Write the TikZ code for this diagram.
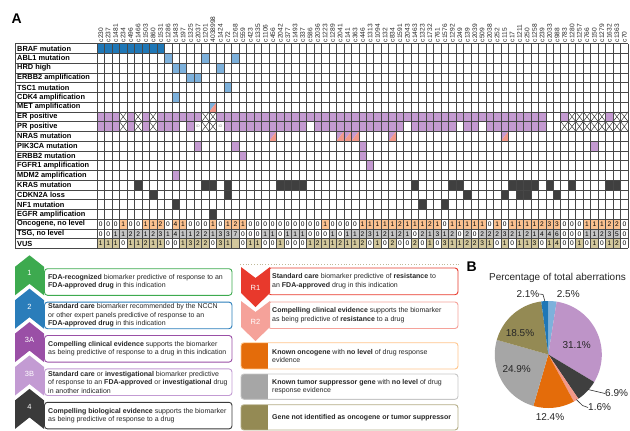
\documentclass[tikz,border=0pt]{standalone}
\usepackage{fontspec}
\setmainfont{Liberation Sans}
\definecolor{dblue}{HTML}{1F77B6}
\definecolor{lblue}{HTML}{7DB1DC}
\definecolor{purp}{HTML}{C49AD1}
\definecolor{salm}{HTML}{F3988A}
\definecolor{dgray}{HTML}{3F3F3F}
\definecolor{orcell}{HTML}{FBC18F}
\definecolor{gycell}{HTML}{C4C4C4}
\definecolor{khcell}{HTML}{D2C79C}
\definecolor{lgreen}{HTML}{3DAA4F}
\definecolor{lblueb}{HTML}{2A7DBA}
\definecolor{lpurA}{HTML}{9A4FA6}
\definecolor{lpurB}{HTML}{C39BD3}
\definecolor{lgrayd}{HTML}{3A3A3A}
\definecolor{rone}{HTML}{E8392C}
\definecolor{rtwo}{HTML}{F5A29A}
\definecolor{lorange}{HTML}{E46C0A}
\definecolor{lgray}{HTML}{A6A6A6}
\definecolor{lkhaki}{HTML}{948A54}
\definecolor{piepurp}{HTML}{BE94C8}
\newcommand{\GX}{97}
\newcommand{\CW}{7.48}
\newcommand{\GY}{43.5}
\newcommand{\RH}{9.76}
\newcommand{\mkcell}[3]{\fill[#3] ({\GX+(#2-1)*\CW},{\GY+(#1-1)*\RH}) rectangle ++(\CW,\RH);}
\newcommand{\mksplit}[4]{\fill[#3] ({\GX+(#2-1)*\CW},{\GY+(#1-1)*\RH}) -- ++(\CW,0) -- ++(-\CW,\RH) -- cycle;
  \fill[#4] ({\GX+#2*\CW},{\GY+(#1-1)*\RH}) -- ++(0,\RH) -- ++(-\CW,0) -- cycle;}
\newcommand{\mkx}[2]{\fill[white] ({\GX+(#2-1)*\CW},{\GY+(#1-1)*\RH}) rectangle ++(\CW,\RH);
  \draw[line width=0.45pt, black!80] ({\GX+(#2-1)*\CW},{\GY+(#1-1)*\RH}) -- ++(\CW,\RH) ++(0,-\RH) -- ++(-\CW,\RH);}
\newcommand{\chevup}[3]{\fill[#2] (15,{#1+11.5}) -- (29.5,#1) -- (44,{#1+11.5}) -- (44,{#1+40}) -- (29.5,{#1+28.5}) -- (15,{#1+40}) -- cycle;
  \node[chevlab] at (29.5,{#1+18}) {#3};}
\newcommand{\chevdown}[3]{\fill[#2] (241,#1) -- (255.5,{#1+11}) -- (270,#1) -- (270,{#1+26}) -- (255.5,{#1+40}) -- (241,{#1+26}) -- cycle;
  \node[chevlab] at (255.5,{#1+21}) {#3};}
\newcommand{\legbox}[3]{\draw[#2, line width=0.9pt, rounded corners=3pt, fill=white] (44.5,{#1+13.4}) rectangle (232,{#1+40});
  \node[legtext] at (48,{#1+26.7}) {#3};}
\newcommand{\sqbox}[5]{\begin{scope}\clip[rounded corners=3pt] (241,#1) rectangle (458,#2);
  \fill[#3] (241,#1) rectangle (268,#2);\end{scope}
  \draw[#4, line width=0.9pt, rounded corners=3pt] (241,#1) rectangle (458,#2);
  \node[legtext] at (272,{(#1+#2)/2}) {#5};}
\newcommand{\pieslice}[3]{\fill[#3] (0,0) -- plot[domain=#1:#2, samples=40, variable=\q] ({53.5*cos(\q)},{-53.5*sin(\q)}) -- cycle;}
\begin{document}
\begin{tikzpicture}[x=1pt,y=-1pt,
  gridl/.style={line width=0.55pt, draw=black!72},
  rowlab/.style={anchor=west, inner sep=0pt, font=\bfseries\fontsize{7.4}{8}\selectfont},
  collab/.style={anchor=west, rotate=90, inner sep=0pt, font=\fontsize{6.6}{7}\selectfont, text=black!85},
  cnt/.style={inner sep=0pt, font=\fontsize{6.6}{7}\selectfont},
  legtext/.style={anchor=west, align=left, inner sep=0pt, font=\fontsize{7}{8.3}\selectfont, text=black!85},
  chevlab/.style={text=white, font=\fontsize{7.5}{8}\selectfont},
  pielab/.style={font=\fontsize{10}{11}\selectfont, text=black!85, inner sep=0pt}]
\useasboundingbox (0,0) rectangle (630,431);
\fill[white] (0,0) rectangle (630,431);
\node[font=\bfseries\fontsize{14}{14}\selectfont] (lblA) at (16.7,18.3) {A};
% ---- marker cells
\foreach \j in {1,...,9} {\mkcell{1}{\j}{dblue}}
\foreach \j in {10,15,19} {\mkcell{2}{\j}{lblue}}
\foreach \j in {11,12,17} {\mkcell{3}{\j}{lblue}}
\foreach \j in {13,14} {\mkcell{4}{\j}{lblue}}
\mkcell{5}{18}{lblue}
\mkcell{6}{11}{lblue}
\mksplit{7}{16}{lblue}{salm}
\fill[purp] (\GX,{\GY+7*\RH}) rectangle ++({71*\CW},\RH);
\foreach \j in {4,6,8,15,16,64,65,66,67,68,70,71} {\mkx{8}{\j}}
\foreach \j in {61,62} {\mkcell{8}{\j}{white}}
\fill[purp] (\GX,{\GY+8*\RH}) rectangle ++({71*\CW},\RH);
\foreach \j in {4,6,8,15,16,63,64,65,66,67,68,69,70,71} {\mkx{9}{\j}}
\foreach \j in {12,14,17,29,42,49,52,61,62} {\mkcell{9}{\j}{white}}
\node[inner sep=0pt, font=\fontsize{3.6}{4}\selectfont, text=black!45] (idA) at ({\GX+13.5*\CW},{\GY+8.5*\RH}) {ID};
\node[inner sep=0pt, font=\fontsize{3.6}{4}\selectfont, text=black!45] (idB) at ({\GX+16.5*\CW},{\GY+8.5*\RH}) {ID};
\foreach \j in {24,33,34,35,40,55} {\mksplit{10}{\j}{purp}{salm}}
\foreach \j in {14,19,36,67} {\mkcell{11}{\j}{purp}}
\foreach \j in {20,36} {\mkcell{12}{\j}{purp}}
\mkcell{13}{37}{purp}
\mkcell{14}{11}{purp}
\foreach \j in {6,15,16,18,25,26,27,28,43,48,49,56,57,58,59,61,64,69,70} {\mkcell{15}{\j}{dgray}}
\foreach \j in {8,18,50,55,57,58,62} {\mkcell{16}{\j}{dgray}}
\foreach \j in {11,44,47} {\mkcell{17}{\j}{dgray}}
\mkcell{18}{16}{dgray}
% ---- count rows
\foreach \v [count=\j] in {0,0,0,1,0,0,1,1,2,0,4,1,0,0,0,1,0,1,2,1,0,0,0,0,0,0,0,0,0,0,1,0,0,0,0,1,1,1,1,1,2,1,1,1,2,1,0,1,1,1,1,1,0,1,0,1,1,1,1,2,3,3,0,0,0,1,1,1,2,2,0}
  {\ifnum\v>0 \mkcell{19}{\j}{orcell}\fi
   \node[cnt] at ({\GX+(\j-0.5)*\CW},{\GY+18.5*\RH}) {\v};}
\foreach \v [count=\j] in {0,0,1,1,2,2,1,2,3,1,4,1,1,2,2,1,3,3,7,0,0,0,1,1,0,1,1,1,0,0,0,1,0,1,1,2,3,1,2,1,2,1,0,2,1,3,1,2,0,2,0,2,2,2,3,2,1,2,1,4,4,6,0,0,0,1,1,2,3,5,0}
  {\ifnum\v>0 \mkcell{20}{\j}{gycell}\fi
   \node[cnt] at ({\GX+(\j-0.5)*\CW},{\GY+19.5*\RH}) {\v};}
\foreach \v [count=\j] in {1,1,1,0,1,1,2,1,1,0,0,1,3,2,2,0,3,1,-1,0,1,1,0,0,1,0,0,0,1,2,1,1,2,1,1,2,0,1,0,2,0,0,2,0,1,0,3,1,1,2,2,3,1,0,1,0,1,1,3,0,1,4,0,0,1,0,1,0,1,2,0}
  {\ifnum\v=0 \else\mkcell{21}{\j}{khcell}\fi
   \ifnum\v<0 \else\node[cnt] at ({\GX+(\j-0.5)*\CW},{\GY+20.5*\RH}) {\v};\fi}
% ---- grid lines
\foreach \r in {0,...,21} {\draw[gridl] (15,{\GY+\r*\RH}) -- ({\GX+71*\CW},{\GY+\r*\RH});}
\foreach \k in {0,...,71} {\draw[gridl] ({\GX+\k*\CW},\GY) -- ({\GX+\k*\CW},{\GY+21*\RH});}
\draw[gridl] (15,\GY) -- (15,{\GY+21*\RH});
% ---- row labels
\foreach \t [count=\r] in {BRAF mutation,ABL1 mutation,HRD high,ERBB2 amplification,TSC1 mutation,CDK4 amplification,MET amplification,ER positive,PR positive,NRAS mutation,PIK3CA mutation,ERBB2 mutation,FGFR1 amplification,MDM2 amplification,KRAS mutation,CDKN2A loss,NF1 mutation,EGFR amplification,{Oncogene, no level},{TSG, no level},VUS}
  {\node[rowlab] at (17,{\GY+(\r-0.5)*\RH}) {\t};}
% ---- column labels
\foreach \t [count=\j] in {c230,c237,c1481,c234,c496,c1466,c1503,c860,c1531,c1286,c1483,c197,c1325,c2037,c1201,4038998,c1424,c72,c1268,c559,c423,c1335,c1106,c456,c2042,c377,c1493,c337,c586,c2036,c1223,c1289,c2041,c141,c363,c446,c1313,c1094,c132,c834,c1591,c2043,c1463,c1323,c1732,c761,c1576,c1292,c249,c139,c2039,c509,c2038,c252,c115,c17,c1211,c250,c1258,c239,c2033,c988,c783,c1280,c1257,c766,c150,c1279,c1632,c1363,c70}
  {\node[collab] at ({\GX+(\j-0.5)*\CW},42.3) {\t};}
% ---- left legend
\legbox{255.3}{lgreen}{\textbf{FDA-recognized} biomarker predictive of response to an\\\textbf{FDA-approved drug} in this indication}
\legbox{288.7}{lblueb}{\textbf{Standard care} biomarker recommended by the NCCN\\or other expert panels predictive of response to an\\\textbf{FDA-approved drug} in this indication}
\legbox{322.1}{lpurA}{\textbf{Compelling clinical evidence} supports the biomarker\\as being predictive of response to a drug in this indication}
\legbox{355.5}{lpurB}{\textbf{Standard care} or \textbf{investigational} biomarker predictive\\of response to an \textbf{FDA-approved} or \textbf{investigational} drug\\in another indication}
\legbox{388.9}{lgrayd}{\textbf{Compelling biological evidence} supports the biomarker\\as being predictive of response to a drug}
\chevup{255.3}{lgreen}{1}
\chevup{288.7}{lblueb}{2}
\chevup{322.1}{lpurA}{3A}
\chevup{355.5}{lpurB}{3B}
\chevup{388.9}{lgrayd}{4}
% ---- right legend
\draw[dotted, line width=0.8pt, lkhaki!60] (240,264.7) -- (460,264.7);
\draw[rone, line width=0.9pt, rounded corners=3pt, fill=white] (268,268) rectangle (458,294.7);
\node[legtext] at (272,281.3) {\textbf{Standard care} biomarker predictive of \textbf{resistance} to\\an \textbf{FDA-approved} drug in this indication};
\draw[rtwo, line width=0.9pt, rounded corners=3pt, fill=white] (268,302) rectangle (458,328.5);
\node[legtext] at (272,315.2) {\textbf{Compelling clinical evidence} supports the biomarker\\as being predictive of \textbf{resistance} to a drug};
\chevdown{301}{rtwo}{R2}
\chevdown{267}{rone}{R1}
\sqbox{342.7}{369}{lorange}{orange!45}{\textbf{Known oncogene} with \textbf{no level} of drug response\\evidence}
\sqbox{374}{399.3}{lgray}{black!22}{\textbf{Known tumor suppressor gene} with \textbf{no level} of drug\\response evidence}
\sqbox{404.7}{430}{lkhaki}{lkhaki!70}{\textbf{Gene not identified as oncogene or tumor suppressor}}
% ---- pie
\node[font=\bfseries\fontsize{14}{14}\selectfont] (lblB) at (471.7,267) {B};
\node[font=\fontsize{10}{11}\selectfont, text=black!85] (ptitle) at (557.5,278) {Percentage of total aberrations};
\begin{scope}[shift={(548.3,354.5)}]
\pieslice{90}{81}{lblue}
\pieslice{81}{-30.96}{piepurp}
\pieslice{-30.96}{-55.8}{dgray}
\pieslice{-55.8}{-61.56}{salm}
\pieslice{-61.56}{-106.2}{lorange}
\pieslice{-106.2}{-195.84}{lgray}
\pieslice{-195.84}{-262.44}{lkhaki}
\pieslice{-262.44}{-270}{dblue}
\end{scope}
\node[pielab, anchor=east] (p21) at (539.5,294) {2.1\%};
\node[pielab] (p25) at (568.3,294) {2.5\%};
\node[pielab] (p311) at (576.7,344.7) {31.1\%};
\node[pielab] (p185) at (520,332.7) {18.5\%};
\node[pielab] (p249) at (516.7,368.7) {24.9\%};
\node[pielab] (p124) at (550,417) {12.4\%};
\node[pielab, anchor=west] (p69) at (605,393.5) {6.9\%};
\node[pielab, anchor=west] (p16) at (588,407.5) {1.6\%};
\coordinate (e21) at (544.8,301);
\coordinate (e69) at (588,389.5);
\coordinate (e16) at (576.3,399.5);
\draw[line width=0.6pt, black!80] (p21.east) -- ++(3.5,0.5) -- (e21);
\draw[line width=0.6pt, black!80] (e69) -- (p69.west);
\draw[line width=0.6pt, black!80] (e16) -- (582.5,405.5) -- (p16.west);
\end{tikzpicture}
\end{document}
